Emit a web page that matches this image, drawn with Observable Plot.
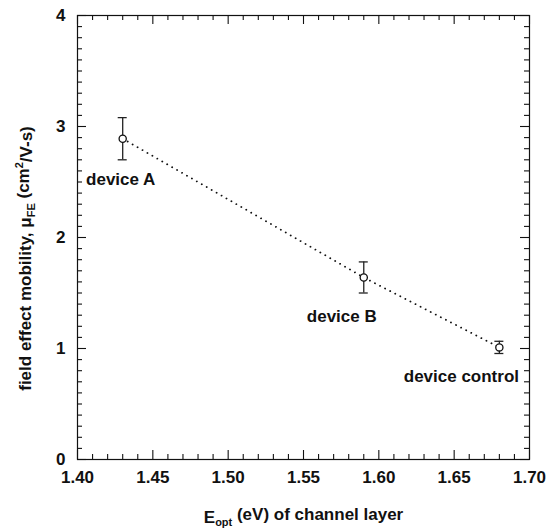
<!DOCTYPE html>
<html>
<head>
<meta charset="utf-8">
<script src="https://cdn.jsdelivr.net/npm/d3@7"></script>
<script src="https://cdn.jsdelivr.net/npm/@observablehq/plot@0.6"></script>
<style>
  html, body { margin: 0; padding: 0; background: #fff; }
  svg { display: block; }
</style>
</head>
<body>
<div id="chart"></div>
<script>
// Data
const devices = ["device A", "device B", "device control"];
const eopt = [1.43, 1.59, 1.68];
const mobility = [2.89, 1.64, 1.01];
const mobilityErr = [0.19, 0.14, 0.055];

const xTickLabels = [1.40, 1.45, 1.50, 1.55, 1.60, 1.65, 1.70];
const yTickLabels = [0, 1, 2, 3, 4];
const xMinorTicks = d3.range(0, 31).map(i => +(1.40 + i * 0.01).toFixed(2));
const yMinorTicks = d3.range(0, 41).map(i => +(i * 0.1).toFixed(1));

const data = devices.map((d, i) => ({device: d, x: eopt[i], y: mobility[i], e: mobilityErr[i]}));

const W = 554, H = 529;
const mL = 77, mR = 25, mT = 15, mB = 70;
const pw = W - mL - mR, ph = H - mT - mB;
const minorLen = 5, majorLen = 9;
const font = "'Liberation Sans', Arial, Helvetica, sans-serif";

const xMajorSet = new Set(xTickLabels.map(v => v.toFixed(2)));
const yMajorSet = new Set(yTickLabels.map(v => v.toFixed(1)));
const xMinorOnly = xMinorTicks.filter(v => !xMajorSet.has(v.toFixed(2)));
const yMinorOnly = yMinorTicks.filter(v => !yMajorSet.has(v.toFixed(1)));

const labelOffsets = {
  "device A": {dx: -2, dy: 41},
  "device B": {dx: -22, dy: 39},
  "device control": {dx: -38, dy: 29}
};

const chart = Plot.plot({
  width: W,
  height: H,
  marginLeft: mL,
  marginRight: mR,
  marginTop: mT,
  marginBottom: mB,
  style: {fontFamily: font, fontWeight: "bold", background: "#fff", color: "#111"},
  x: {domain: [1.40, 1.70]},
  y: {domain: [0, 4]},
  marks: [
    Plot.frame({stroke: "#111", strokeWidth: 1.2}),
    // ticks (inward) on all four sides
    Plot.tickX(xMinorOnly, {x: d => d, insetTop: ph - minorLen, stroke: "#111", strokeWidth: 1.1}),
    Plot.tickX(xTickLabels, {x: d => d, insetTop: ph - majorLen, stroke: "#111", strokeWidth: 1.1}),
    Plot.tickX(xMinorOnly, {x: d => d, insetBottom: ph - minorLen, stroke: "#111", strokeWidth: 1.1}),
    Plot.tickX(xTickLabels, {x: d => d, insetBottom: ph - majorLen, stroke: "#111", strokeWidth: 1.1}),
    Plot.tickY(yMinorOnly, {y: d => d, insetRight: pw - minorLen, stroke: "#111", strokeWidth: 1.1}),
    Plot.tickY(yTickLabels, {y: d => d, insetRight: pw - majorLen, stroke: "#111", strokeWidth: 1.1}),
    Plot.tickY(yMinorOnly, {y: d => d, insetLeft: pw - minorLen, stroke: "#111", strokeWidth: 1.1}),
    Plot.tickY(yTickLabels, {y: d => d, insetLeft: pw - majorLen, stroke: "#111", strokeWidth: 1.1}),
    Plot.axisX({ticks: xTickLabels, tickSize: 0, tickPadding: 11, tickFormat: d3.format(".2f"), fontSize: 17, fontWeight: "bold", label: null}),
    Plot.axisY({ticks: yTickLabels, tickSize: 0, tickPadding: 12, tickFormat: d3.format("d"), fontSize: 17, fontWeight: "bold", label: null}),
    // dotted trend line
    Plot.line(data, {x: "x", y: "y", stroke: "#111", strokeWidth: 1.8, strokeDasharray: "0.1,5.6", strokeLinecap: "round"}),
    // error bars
    Plot.ruleX(data, {x: "x", y1: d => d.y - d.e, y2: d => d.y + d.e, stroke: "#222", strokeWidth: 1.3}),
    Plot.ruleY(data, {y: d => d.y + d.e, x1: "x", x2: "x", insetLeft: -4.5, insetRight: -4.5, stroke: "#222", strokeWidth: 1.3}),
    Plot.ruleY(data, {y: d => d.y - d.e, x1: "x", x2: "x", insetLeft: -4.5, insetRight: -4.5, stroke: "#222", strokeWidth: 1.3}),
    Plot.dot(data, {x: "x", y: "y", r: 3.6, fill: "#fff", stroke: "#111", strokeWidth: 1.3}),
    // point labels
    ...devices.map(name => Plot.text(data.filter(d => d.device === name), {
      x: "x", y: "y", text: "device", fontSize: 17, fontWeight: "bold", fill: "#111",
      dx: labelOffsets[name].dx, dy: labelOffsets[name].dy
    })),
    // axis titles (placeholders, rich text added below)
    Plot.text(["XTITLE"], {frameAnchor: "bottom", textAnchor: "middle", dy: 63, text: d => d, fontSize: 17, fontWeight: "bold", fill: "#111"}),
    Plot.text(["YTITLE"], {frameAnchor: "left", textAnchor: "middle", dx: -52, dy: 21, rotate: -90, text: d => d, fontSize: 17, fontWeight: "bold", fill: "#111"})
  ]
});

// Rich text for axis titles (subscripts / superscript)
d3.select(chart).selectAll("text").each(function () {
  const t = d3.select(this);
  const s = this.textContent;
  if (s === "XTITLE") {
    t.text(null);
    t.append("tspan").text("E");
    t.append("tspan").attr("font-size", 11).attr("dy", "0.35em").text("opt");
    t.append("tspan").attr("dy", "-0.35em").text(" (eV) of channel layer");
  } else if (s === "YTITLE") {
    t.text(null);
    t.append("tspan").text("field effect mobility, \u03BC");
    t.append("tspan").attr("font-size", 11).attr("dy", "0.35em").text("FE");
    t.append("tspan").attr("dy", "-0.35em").text(" (cm");
    t.append("tspan").attr("font-size", 11).attr("dy", "-0.55em").text("2");
    t.append("tspan").attr("dy", "0.55em").text("/V-s)");
  }
});

document.getElementById("chart").appendChild(chart);
</script>
</body>
</html>
